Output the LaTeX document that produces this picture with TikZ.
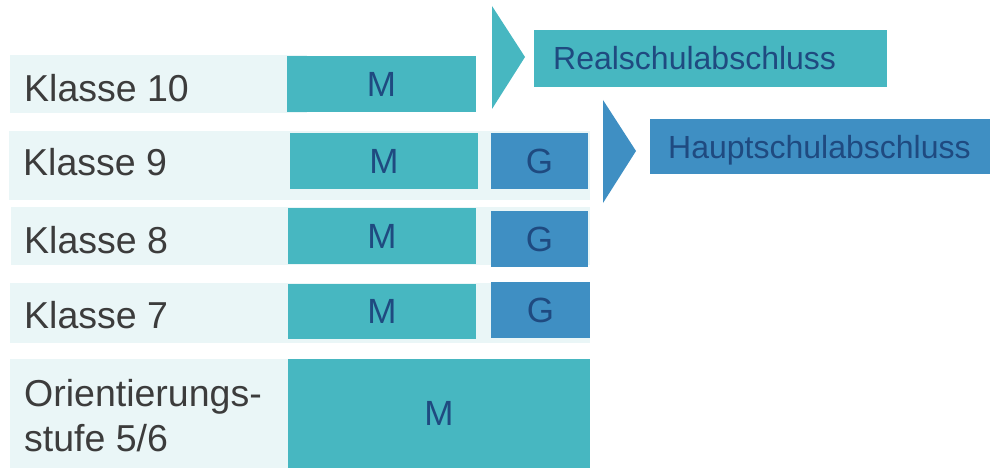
\documentclass[tikz,border=0pt]{standalone}
\usepackage{fontspec}
\setmainfont{Liberation Sans}
\definecolor{bandc}{HTML}{EAF6F7}
\definecolor{tealc}{HTML}{47B7C1}
\definecolor{bluc}{HTML}{3F8FC3}
\definecolor{dtext}{HTML}{1F4A80}
\definecolor{gtext}{HTML}{3C3C3C}
\begin{document}
\begin{tikzpicture}[x=1pt,y=-1pt,
  bandbox/.style={fill=bandc, inner sep=0pt, outer sep=0pt, anchor=north west},
  mbox/.style={fill=tealc, text=dtext, inner sep=0pt, outer sep=0pt, anchor=north west,
     font=\fontsize{35}{40}\selectfont},
  gbox/.style={fill=bluc, text=dtext, inner sep=0pt, outer sep=0pt, anchor=north west,
     font=\fontsize{35}{40}\selectfont},
  lbl/.style={text=gtext, inner sep=0pt, anchor=base west, font=\fontsize{37.5}{45}\selectfont},
  goal/.style={inner sep=0pt, outer sep=0pt, anchor=north west},
  goaltext/.style={text=dtext, font=\fontsize{32}{38}\selectfont, inner sep=0pt, anchor=base west}]
\useasboundingbox (0,0) rectangle (990,468);
% light bands
\node[bandbox, minimum width=297pt, minimum height=58pt] (b10) at (10,55) {};
\node[bandbox, minimum width=581pt, minimum height=69pt] (b9) at (9,131) {};
\node[bandbox, minimum width=579pt, minimum height=58pt] (b8) at (11,207) {};
\node[bandbox, minimum width=580pt, minimum height=60pt] (b7) at (10,283) {};
\node[bandbox, minimum width=580pt, minimum height=109pt] (b56) at (10,359) {};
% M boxes
\node[mbox, minimum width=189pt, minimum height=56pt] (m10) at (287,56) {M};
\node[mbox, minimum width=188pt, minimum height=56pt] (m9) at (290,133) {M};
\node[mbox, minimum width=188pt, minimum height=56pt] (m8) at (288,208) {M};
\node[mbox, minimum width=188pt, minimum height=55pt] (m7) at (288,284) {M};
\node[mbox, minimum width=302pt, minimum height=109pt] (m56) at (288,359) {M};
% G boxes
\node[gbox, minimum width=97pt, minimum height=56pt] (g9) at (491,133) {G};
\node[gbox, minimum width=97pt, minimum height=56pt] (g8) at (491,211) {G};
\node[gbox, minimum width=99pt, minimum height=56pt] (g7) at (491,282) {G};
% labels
\node[lbl] (k10) at (24,102) {Klasse 10};
\node[lbl] (k9) at (23,175) {Klasse 9};
\node[lbl] (k8) at (24,253) {Klasse 8};
\node[lbl] (k7) at (24,328) {Klasse 7};
\node[lbl, anchor=west, align=left] (k56) at (24,416) {Orientierungs-\\stufe 5/6};
% arrows
\fill[tealc] (492,6) -- (525,57) -- (492,109) -- cycle;
\fill[bluc] (603,100) -- (636,151) -- (603,203) -- cycle;
% goals
\node[goal, fill=tealc, minimum width=353pt, minimum height=57pt] (rs) at (534,30) {};
\node[goaltext] (rst) at (553,70) {Realschulabschluss};
\node[goal, fill=bluc, minimum width=340pt, minimum height=55pt] (hs) at (650,119) {};
\node[goaltext] (hst) at (668,158) {Hauptschulabschluss};
\end{tikzpicture}
\end{document}
